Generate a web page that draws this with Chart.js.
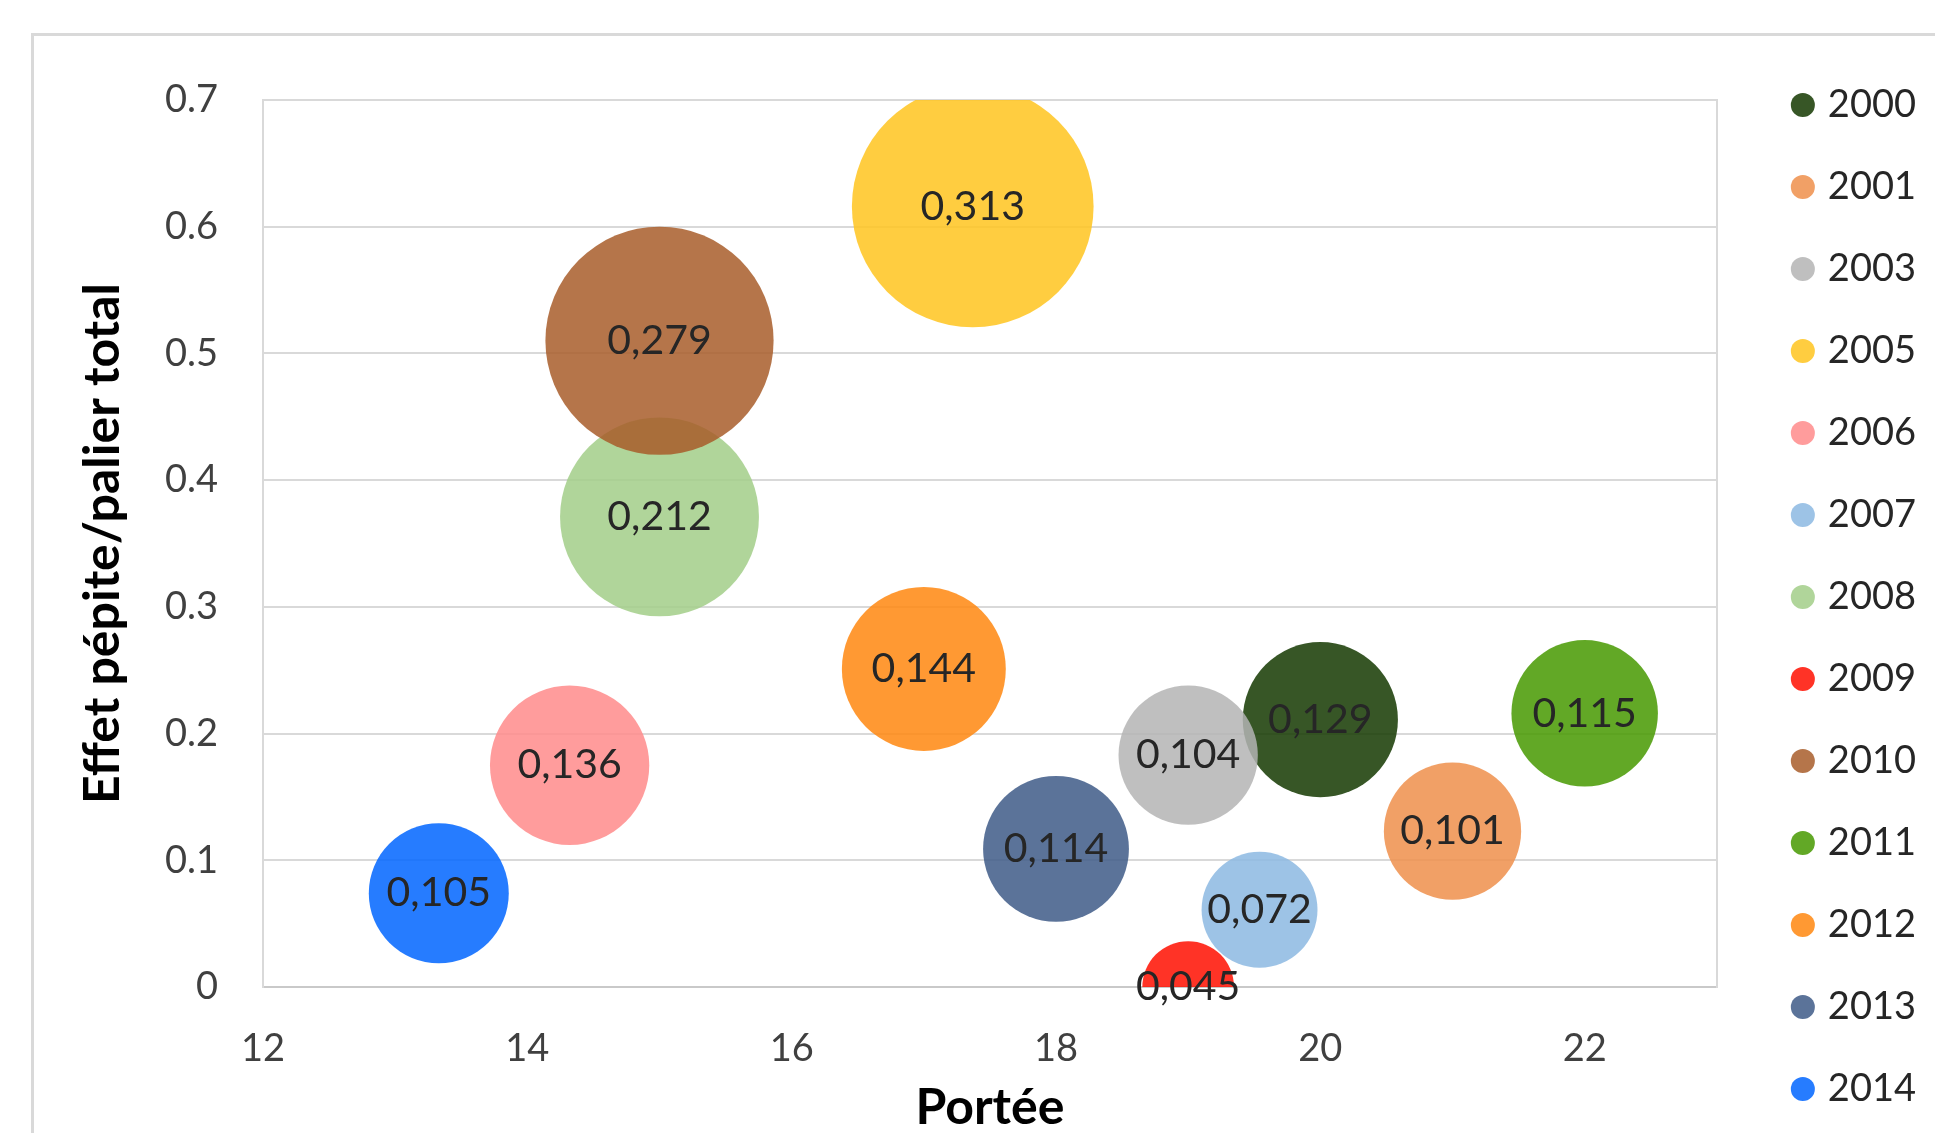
<!DOCTYPE html>
<html>
<head>
<meta charset="utf-8">
<title>Effet pépite / palier total selon la portée</title>
<script src="https://cdn.jsdelivr.net/npm/chart.js@4"></script>
<style>
  html, body { margin: 0; padding: 0; background: #fff; overflow: hidden; }
  #wrap { position: absolute; left: 0; top: 0; width: 1935px; height: 1133px; overflow: hidden; }
  #frame { position: absolute; left: 31px; top: 33px; width: 2000px; height: 1200px;
           border-left: 3px solid #d9d9d9; border-top: 3px solid #d9d9d9; }
  canvas { position: absolute; left: 0; top: 0; display: block; }
</style>
</head>
<body>
<div id="wrap">
  <div id="frame"></div>
  <canvas id="chart" width="1935" height="1152" style="width:1935px;height:1152px"></canvas>
</div>
<script>
// Campaign years, one bubble each
const years = ['2000', '2001', '2003', '2005', '2006', '2007', '2008', '2009', '2010', '2011', '2012', '2013', '2014'];
// Portée (x)
const porteeX = [20, 21, 19, 17.37, 14.32, 19.54, 15, 19, 15, 22, 17, 18, 13.33];
// Effet pépite / palier total (y)
const effetY = [0.211, 0.123, 0.183, 0.616, 0.175, 0.061, 0.371, 0, 0.510, 0.216, 0.251, 0.109, 0.074];
// Bubble size value, also printed inside each bubble
const bubbleSize = [0.129, 0.101, 0.104, 0.313, 0.136, 0.072, 0.212, 0.045, 0.279, 0.115, 0.144, 0.114, 0.105];
// Colour of each year as it appears on white
const bubbleColors = ['#375623', '#f1a066', '#bfbfbf', '#ffcd40', '#ff9c9c', '#9dc3e6', '#b0d59a',
                      '#ff3300', '#b5754a', '#62a820', '#ff9933', '#5b7399', '#1f7cff'];

const xTicks = [12, 14, 16, 18, 20, 22];
const xTickLabels = ['12', '14', '16', '18', '20', '22'];
const yTicks = [0, 0.1, 0.2, 0.3, 0.4, 0.5, 0.6, 0.7];
const yTickLabels = ['0', '0.1', '0.2', '0.3', '0.4', '0.5', '0.6', '0.7'];

const FONT = 'Lato, "Open Sans", sans-serif';
const RADIUS_PER_SQRT = 216;   // bubble area proportional to size: r = k * sqrt(size)
const FILL_ALPHA = 0.85;
const GRID = '#d9d9d9';

// Solve for the translucent fill that shows the given colour over white
function translucent(hex) {
  const n = parseInt(hex.slice(1), 16);
  const ch = [(n >> 16) & 255, (n >> 8) & 255, n & 255]
    .map(c => Math.max(0, Math.round((c - 255 * (1 - FILL_ALPHA)) / FILL_ALPHA)));
  return `rgba(${ch[0]},${ch[1]},${ch[2]},${FILL_ALPHA})`;
}

const datasets = years.map((yr, i) => ({
  label: yr,
  data: [{ x: porteeX[i], y: effetY[i], r: RADIUS_PER_SQRT * Math.sqrt(bubbleSize[i]), size: bubbleSize[i] }],
  backgroundColor: translucent(bubbleColors[i]),
  hoverBackgroundColor: translucent(bubbleColors[i]),
  borderWidth: 0,
  hoverBorderWidth: 0,
  pointStyle: 'circle',
  order: -i,      // later years are painted over earlier ones
  clip: 0
}));

// Size values written at the centre of every bubble, above all series
const sizeLabels = {
  id: 'sizeLabels',
  afterDatasetsDraw(chart) {
    const ctx = chart.ctx;
    ctx.save();
    ctx.font = `41px ${FONT}`;
    ctx.fillStyle = '#262626';
    ctx.textAlign = 'center';
    ctx.textBaseline = 'middle';
    chart.data.datasets.forEach((ds, i) => {
      const meta = chart.getDatasetMeta(i);
      meta.data.forEach((el, j) => {
        const txt = ds.data[j].size.toFixed(3).replace('.', ',');
        ctx.fillText(txt, el.x, el.y);
      });
    });
    ctx.restore();
  }
};

function draw() {
  new Chart(document.getElementById('chart'), {
    type: 'bubble',
    data: { datasets },
    plugins: [sizeLabels],
    options: {
      responsive: false,
      maintainAspectRatio: false,
      animation: false,
      events: [],
      layout: { autoPadding: false, padding: { left: 0, right: 9, top: 0, bottom: 0 } },
      plugins: {
        tooltip: { enabled: false },
        legend: {
          position: 'right',
          align: 'end',
          labels: {
            usePointStyle: true,
            pointStyle: 'circle',
            boxWidth: 12,
            boxHeight: 17,
            padding: 44,
            color: '#262626',
            font: { family: FONT, size: 38 },
            sort: (a, b) => a.datasetIndex - b.datasetIndex
          }
        }
      },
      scales: {
        x: {
          type: 'linear',
          position: 'bottom',
          min: 12,
          max: 23,
          afterBuildTicks: s => { s.ticks = xTicks.map(v => ({ value: v })); },
          afterFit: s => { s.height = 165; },
          grid: { display: false },
          border: { display: true, color: '#c9c9c9', width: 2 },
          ticks: {
            padding: 31,
            color: '#404040',
            font: { family: FONT, size: 38 },
            maxRotation: 0,
            callback: (v, i) => xTickLabels[i]
          },
          title: {
            display: true,
            text: 'Portée',
            color: '#000',
            font: { family: FONT, size: 50, weight: 'bold' },
            padding: { top: 0, bottom: 14 }
          }
        },
        xTop: {
          type: 'linear',
          position: 'top',
          afterFit: s => { s.height = 100; },
          grid: { display: false },
          border: { display: false },
          ticks: { display: false }
        },
        y: {
          type: 'linear',
          position: 'left',
          min: 0,
          max: 0.7,
          afterBuildTicks: s => { s.ticks = yTicks.map(v => ({ value: v })); },
          afterFit: s => { s.width = 263; },
          grid: { display: true, color: GRID, lineWidth: 2, drawTicks: false },
          border: { display: true, color: GRID, width: 2 },
          ticks: {
            padding: 45,
            color: '#404040',
            font: { family: FONT, size: 38 },
            callback: (v, i) => yTickLabels[i]
          },
          title: {
            display: true,
            text: 'Effet pépite/palier total',
            color: '#000',
            font: { family: FONT, size: 50, weight: 'bold' },
            padding: { top: 73, bottom: 0 }
          }
        },
        yRight: {
          type: 'linear',
          position: 'right',
          afterFit: s => { s.width = 36; },
          grid: { display: false },
          border: { display: true, color: GRID, width: 2 },
          ticks: { display: false }
        }
      }
    }
  });
}

Promise.all([
  document.fonts.load('38px Lato'),
  document.fonts.load('bold 50px Lato')
]).then(draw, draw);
</script>
</body>
</html>
